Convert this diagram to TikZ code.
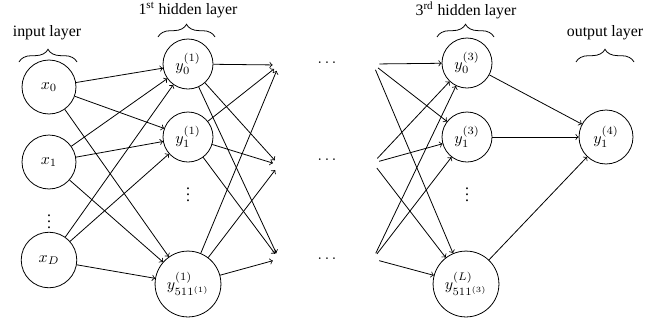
\documentclass[tikz,border=0pt]{standalone}
\usepackage{fontspec}
\setmainfont{Liberation Serif}
\usetikzlibrary{decorations.pathreplacing}
\begin{document}
\begin{tikzpicture}[x=0.63pt,y=-0.63pt,
  line width=0.5pt,
  neuron/.style={circle,draw,inner sep=0pt,minimum size=#1},
  neuron/.default=34pt,
  port/.style={circle,inner sep=0pt,minimum size=7.5pt},
  conn/.style={->},
  layerlabel/.style={inner sep=1pt,font=\normalsize},
  bracedeco/.style={decorate,decoration={brace,amplitude=8pt}}]
\useasboundingbox (0,0) rectangle (658,325);

% input layer
\node[neuron] (x0) at (49,87) {$x_0$};
\node[neuron] (x1) at (49,162) {$x_1$};
\node (xv) at (49,217) {$\vdots$};
\node[neuron=35pt] (xD) at (49,260) {$x_D$};

% first hidden layer
\node[neuron=31.5pt] (h10) at (188,64) {$y_0^{(1)}$};
\node[neuron=31.5pt] (h11) at (188,137) {$y_1^{(1)}$};
\node (h1v) at (188,190) {$\vdots$};
\node[neuron=41.5pt] (h1L) at (188,284) {$y_{511^{(1)}}^{(1)}$};

% omitted second hidden layer: dots with entry and exit ports
\node (d0) at (327,63) {$\dots$};
\node (d1) at (327,160) {$\dots$};
\node (d2) at (327,259) {$\dots$};
\node[port] (p0in) at (279,65) {};
\node[port] (p1in) at (279,165) {};
\node[port] (p2in) at (279,259) {};
\node[port] (p0out) at (373,64) {};
\node[port] (p1out) at (373,163) {};
\node[port] (p2out) at (373,259) {};

% third hidden layer
\node[neuron=31.5pt] (h30) at (467,63) {$y_0^{(3)}$};
\node[neuron=31.5pt] (h31) at (467,137) {$y_1^{(3)}$};
\node (h3v) at (467,190) {$\vdots$};
\node[neuron=41.5pt] (h3L) at (466,284) {$y_{511^{(3)}}^{(L)}$};

% output layer
\node[neuron] (o1) at (606,137) {$y_1^{(4)}$};

% layer labels
\node[layerlabel] (lin) at (47,33) {input layer};
\node[layerlabel] (lh1) at (188,10) {1\textsuperscript{st} hidden layer};
\node[layerlabel] (lh3) at (466,10) {3\textsuperscript{rd} hidden layer};
\node[layerlabel] (lout) at (605,33) {output layer};

% braces under the labels
\draw[bracedeco] (19,62) -- (77,62);
\draw[bracedeco] (158,37) -- (215,37);
\draw[bracedeco] (437,37) -- (494,37);
\draw[bracedeco] (576,62) -- (634,62);

% connections
\foreach \a in {x0,x1,xD}
  \foreach \b in {h10,h11,h1L}
    \draw[conn] (\a) -- (\b);
\foreach \a in {h10,h11,h1L}
  \foreach \b in {p0in,p1in,p2in}
    \draw[conn] (\a) -- (\b);
\foreach \a in {p0out,p1out,p2out}
  \foreach \b in {h30,h31,h3L}
    \draw[conn] (\a) -- (\b);
\foreach \a in {h30,h31,h3L}
  \draw[conn] (\a) -- (o1);
\end{tikzpicture}
\end{document}
